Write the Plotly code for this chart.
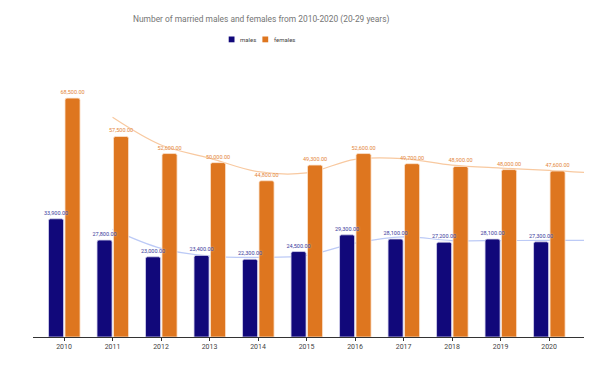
import plotly.graph_objects as go

years = ["2010", "2011", "2012", "2013", "2014", "2015", "2016", "2017", "2018", "2019", "2020"]
males = [33900, 27800, 23000, 23400, 22300, 24500, 29300, 28100, 27200, 28100, 27300]
females = [68500, 57500, 52600, 50000, 44800, 49300, 52600, 49700, 48900, 48000, 47600]

# trend lines (2-period moving average shape), from 2011 on,
# last value is where the line meets the right edge of the plot
males_trend = [30850, 25400, 23200, 22850, 23400, 26900, 28700, 27650, 27650, 27700, 27700]
females_trend = [63000, 55050, 51300, 47400, 47050, 50950, 51150, 49300, 48450, 47800, 47200]

X_MIN, X_MAX = -0.64, 10.72
Y_MAX = 80000

idx = list(range(len(years)))
trend_x = idx[1:] + [X_MAX]

MALE_C = "#11087a"
FEMALE_C = "#de761f"

# page body has an 8px margin: the figure is placed at (8, 8) in the window
OFF = 8
W, H = 601 - OFF, 368 - OFF
L, R, T, B = 33 - OFF, 17, 58 - OFF, 31
PW, PH = W - L - R, H - T - B


def px_x(x):  # window pixel -> paper x
    return (x - OFF - L) / PW


def px_y(y):  # window pixel -> paper y
    return 1 - (y - OFF - T) / PH


fig = go.Figure()

# trend lines on base axes (drawn beneath the bars)
fig.add_trace(go.Scatter(
    x=trend_x, y=females_trend, mode="lines",
    line=dict(color="#f8c9a0", width=1.2, shape="spline", smoothing=1),
    showlegend=False, hoverinfo="skip", xaxis="x", yaxis="y"))
fig.add_trace(go.Scatter(
    x=trend_x, y=males_trend, mode="lines",
    line=dict(color="#bccaf6", width=1.2, shape="spline", smoothing=1),
    showlegend=False, hoverinfo="skip", xaxis="x", yaxis="y"))

label_shadow = "0px 0px 2px white"
BAR_W = 0.31
# females first so that males' labels are drawn over the female bars
fig.add_trace(go.Bar(
    x=idx, y=females, name="females", xaxis="x2", yaxis="y2",
    offset=0.02, width=BAR_W,
    marker=dict(color=FEMALE_C, line=dict(color="#fbe3cf", width=0.8), cornerradius=2),
    texttemplate="%{y:,.2f}", textposition="outside", cliponaxis=False,
    constraintext="none", showlegend=False,
    textfont=dict(size=5.5, color="#e4873c", family="Roboto", shadow=label_shadow)))
fig.add_trace(go.Bar(
    x=idx, y=males, name="males", xaxis="x2", yaxis="y2",
    offset=-0.32, width=BAR_W,
    marker=dict(color=MALE_C, line=dict(color="#d6d4ee", width=0.8), cornerradius=2),
    texttemplate="%{y:,.2f}", textposition="outside", cliponaxis=False,
    constraintext="none", showlegend=False,
    textfont=dict(size=5.5, color="#3b3a9c", family="Roboto", shadow=label_shadow)))

shapes = []
annotations = []
# custom legend
for name, color, sq_left in [("males", MALE_C, 228.7), ("females", FEMALE_C, 262.4)]:
    shapes.append(dict(type="rect", xref="paper", yref="paper",
                       x0=px_x(sq_left), x1=px_x(sq_left + 5.8),
                       y0=px_y(42.3), y1=px_y(36.5),
                       fillcolor=color, line=dict(width=0)))
    annotations.append(dict(text=name, xref="paper", yref="paper",
                            x=px_x(sq_left + 9.3), y=px_y(39.3),
                            xanchor="left", yanchor="middle", showarrow=False,
                            font=dict(size=6, color="#444444", family="Roboto")))

# title
annotations.append(dict(text="Number of married males and females from 2010-2020 (20-29 years)",
                        xref="paper", yref="paper", x=px_x(260.5), y=px_y(19),
                        xanchor="center", yanchor="middle", showarrow=False,
                        font=dict(size=8.4, color="#757575", family="Roboto")))

fig.update_layout(
    width=W, height=H,
    margin=dict(l=L, r=R, t=T, b=B),
    paper_bgcolor="white", plot_bgcolor="white",
    font=dict(family="Roboto", color="#444444"),
    showlegend=False,
    barmode="overlay",
    shapes=shapes, annotations=annotations,
    xaxis=dict(range=[X_MIN, X_MAX], tickmode="array", tickvals=idx, ticktext=years,
               showline=True, linecolor="#333333", linewidth=1,
               ticks="outside", ticklen=3, tickcolor="#333333",
               showgrid=False, zeroline=False,
               tickfont=dict(size=7, color="#444444")),
    yaxis=dict(range=[0, Y_MAX], visible=False, showgrid=False, zeroline=False),
    xaxis2=dict(range=[X_MIN, X_MAX], overlaying="x", visible=False),
    yaxis2=dict(range=[0, Y_MAX], overlaying="y", visible=False),
)

fig.write_html("out.html")
